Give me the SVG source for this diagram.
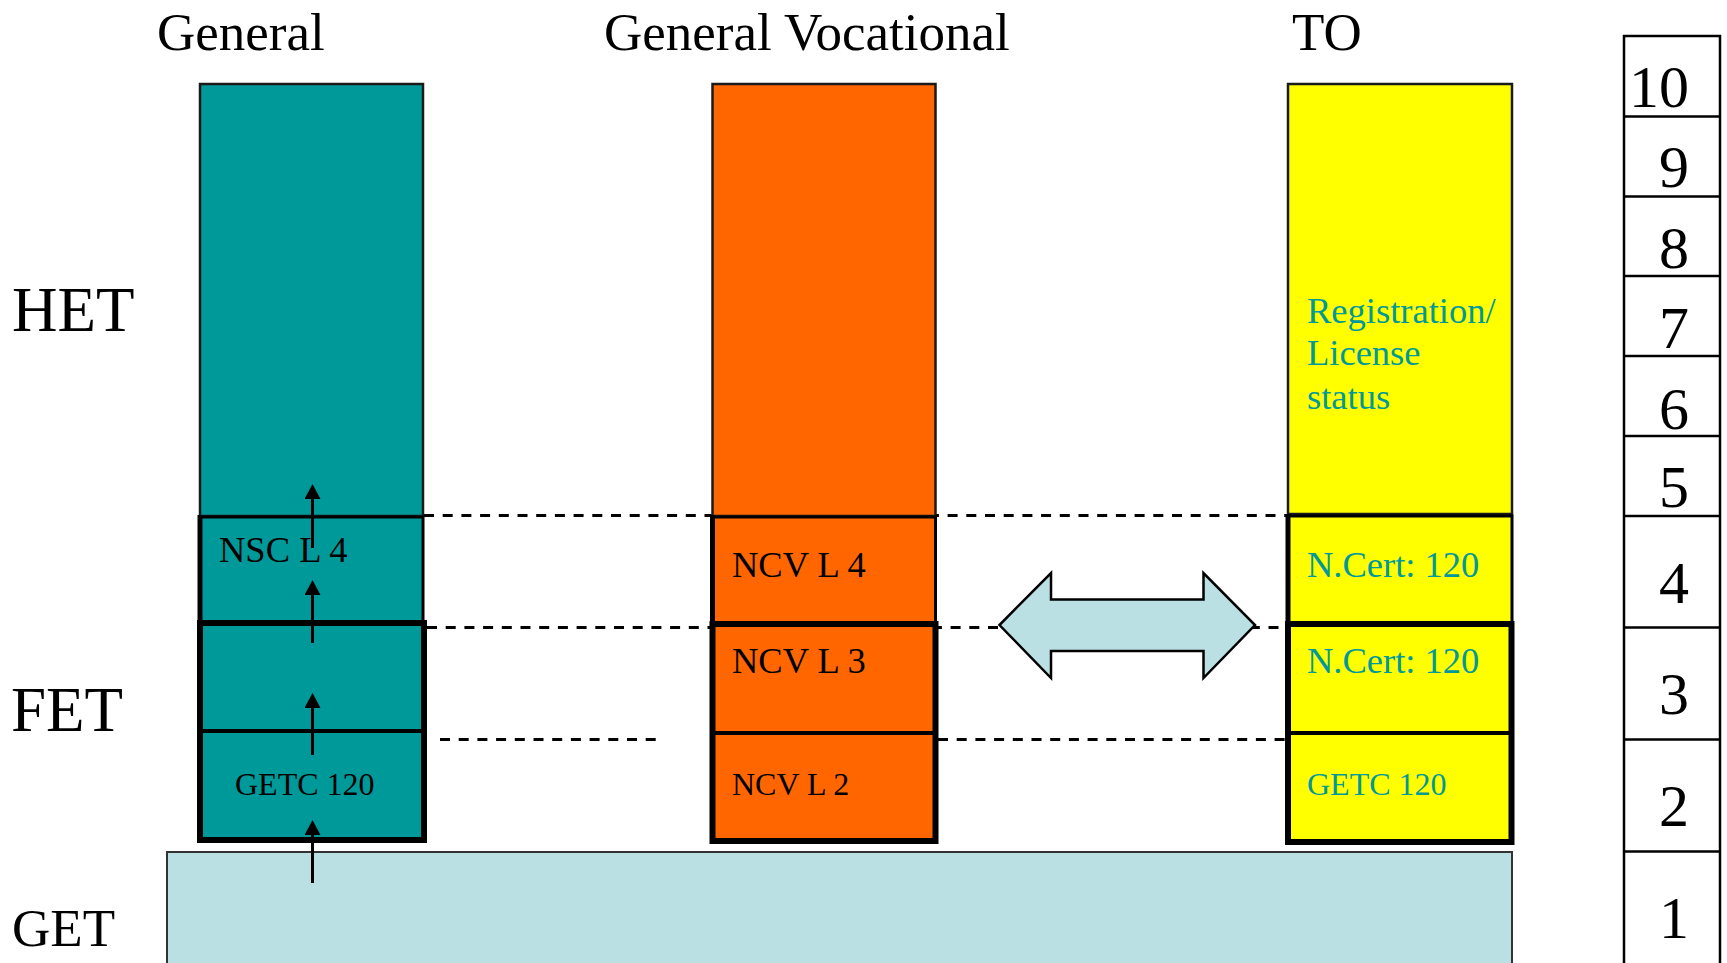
<svg xmlns="http://www.w3.org/2000/svg" width="1727" height="963" viewBox="0 0 1727 963">
<style>
text{font-family:"Liberation Serif","Times New Roman",serif;fill:#000}
.hdr{font-size:53px}
.lvl{font-size:63px}
.lab{font-size:36.5px}
.sm{font-size:32px}
.tl{fill:#009999}
.num{font-size:60px;text-anchor:end}
.tall{stroke:#1a1a1a;stroke-width:2.5}
.blk{fill:none;stroke:#000;stroke-width:3}
.edge{stroke:#000;stroke-width:5}
.blk2{fill:none;stroke:#000;stroke-width:6}
.div{stroke:#000;stroke-width:4}
.dash{stroke:#000;stroke-width:3;stroke-dasharray:10 8.7;fill:none}
.up{stroke:#000;stroke-width:3;marker-end:url(#ah)}
.grid{stroke:#000;stroke-width:2.5}
</style>
<defs>
<marker id="ah" viewBox="0 0 15 16" markerWidth="15" markerHeight="16" refX="3" refY="8" orient="auto" markerUnits="userSpaceOnUse">
<path d="M0,0 L15,8 L0,16 z" fill="#000"/>
</marker>
</defs>
<rect width="1727" height="963" fill="#fff"/>

<g id="headers">
<text class="hdr" x="157" y="50">General</text>
<text class="hdr" x="604" y="50">General Vocational</text>
<text class="hdr" x="1292" y="50">TO</text>
</g>
<g id="band-labels">
<text class="lvl" x="12" y="331">HET</text>
<text class="lvl" x="11" y="731">FET</text>
<text class="hdr" x="12" y="946">GET</text>
</g>

<g id="connectors-dashed">
<line class="dash" x1="424" y1="515.5" x2="1288" y2="515.5"/>
<line class="dash" x1="427" y1="627.5" x2="1288" y2="627.5"/>
<line class="dash" x1="440" y1="739.5" x2="657" y2="739.5"/>
<line class="dash" x1="938" y1="739.5" x2="1286" y2="739.5"/>
</g>

<g id="get">
<rect x="167" y="852" width="1345" height="150" fill="#BBE0E3" stroke="#333" stroke-width="2"/>
</g>

<g id="general">
<rect class="tall" x="200" y="84" width="223" height="432" fill="#009999"/>
<rect x="200" y="517" width="223" height="106" fill="#009999"/>
<rect x="200" y="623" width="224" height="217" fill="#009999"/>
<rect class="blk" x="200" y="517" width="223" height="106"/>
<line class="edge" x1="200" y1="515" x2="200" y2="623"/>
<rect class="blk2" x="200" y="623" width="224" height="217"/>
<line class="div" x1="200" y1="731" x2="424" y2="731"/>
<text class="lab" x="219" y="562">NSC L 4</text>
<text class="sm" x="235" y="795">GETC 120</text>
</g>

<g id="vocational">
<rect class="tall" x="712.5" y="84" width="223" height="432" fill="#FF6600"/>
<rect x="712.5" y="517" width="223" height="107" fill="#FF6600"/>
<rect x="712.5" y="624" width="223" height="217" fill="#FF6600"/>
<rect class="blk" x="712.5" y="517" width="223" height="107"/>
<line class="edge" x1="712.5" y1="515" x2="712.5" y2="624"/>
<rect class="blk2" x="712.5" y="624" width="223" height="217"/>
<line class="div" x1="712.5" y1="733" x2="935.5" y2="733"/>
<text class="lab" x="732" y="577">NCV L 4</text>
<text class="lab" x="732" y="673">NCV L 3</text>
<text class="sm" x="732" y="795">NCV L 2</text>
</g>

<g id="to">
<rect class="tall" x="1288" y="84" width="224" height="430" fill="#FFFF00"/>
<rect x="1288" y="516" width="224" height="108" fill="#FFFF00"/>
<rect x="1288" y="624" width="223.5" height="218" fill="#FFFF00"/>
<rect class="blk" x="1288" y="516" width="224" height="108"/>
<line class="edge" x1="1288" y1="514" x2="1288" y2="624"/>
<rect class="blk2" x="1288" y="624" width="223.5" height="218"/>
<line class="div" x1="1288" y1="733" x2="1511.5" y2="733"/>
<text class="lab tl" x="1307" y="323">Registration/</text>
<text class="lab tl" x="1307" y="365">License</text>
<text class="lab tl" x="1307" y="409">status</text>
<text class="lab tl" x="1307" y="577">N.Cert: 120</text>
<text class="lab tl" x="1307" y="673">N.Cert: 120</text>
<text class="sm tl" x="1307" y="795">GETC 120</text>
</g>

<g id="equivalence-arrow">
<polygon points="999.5,625 1051,573 1051,599.5 1203.5,599.5 1203.5,573 1255,625 1203.5,678 1203.5,651 1051,651 1051,678" fill="#BBE0E3" stroke="#000" stroke-width="2.5" stroke-linejoin="miter"/>
</g>

<g id="connectors">
<line class="up" x1="312.5" y1="883" x2="312.5" y2="832"/>
<line class="up" x1="312.5" y1="755" x2="312.5" y2="705"/>
<line class="up" x1="312.5" y1="643" x2="312.5" y2="592"/>
<line class="up" x1="312.5" y1="548" x2="312.5" y2="496"/>
</g>

<g id="levels">
<rect x="1624" y="36" width="96" height="960" fill="#fff" stroke="#000" stroke-width="2.5"/>
<line class="grid" x1="1624" y1="116.5" x2="1720" y2="116.5"/>
<line class="grid" x1="1624" y1="196.5" x2="1720" y2="196.5"/>
<line class="grid" x1="1624" y1="276" x2="1720" y2="276"/>
<line class="grid" x1="1624" y1="356" x2="1720" y2="356"/>
<line class="grid" x1="1624" y1="436" x2="1720" y2="436"/>
<line class="grid" x1="1624" y1="516" x2="1720" y2="516"/>
<line class="grid" x1="1624" y1="627.5" x2="1720" y2="627.5"/>
<line class="grid" x1="1624" y1="739.5" x2="1720" y2="739.5"/>
<line class="grid" x1="1624" y1="851.5" x2="1720" y2="851.5"/>
<text class="num" x="1689" y="107">10</text>
<text class="num" x="1689" y="187">9</text>
<text class="num" x="1689" y="267.5">8</text>
<text class="num" x="1689" y="348">7</text>
<text class="num" x="1689" y="428.5">6</text>
<text class="num" x="1689" y="507">5</text>
<text class="num" x="1689" y="603">4</text>
<text class="num" x="1689" y="714">3</text>
<text class="num" x="1689" y="826">2</text>
<text class="num" x="1689" y="938">1</text>
</g>
</svg>
